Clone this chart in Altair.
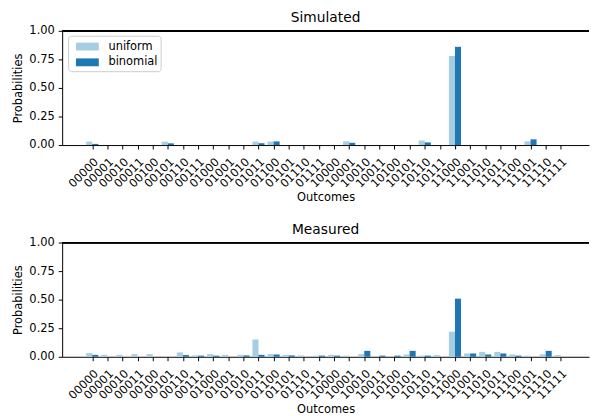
import altair as alt
import pandas as pd

outcomes = ["00000", "00001", "00010", "00011", "00100", "00101", "00110", "00111",
            "01000", "01001", "01010", "01011", "01100", "01101", "01110", "01111",
            "10000", "10001", "10010", "10011", "10100", "10101", "10110", "10111",
            "11000", "11001", "11010", "11011", "11100", "11101", "11110", "11111"]

series_names = ["uniform", "binomial"]
series_colors = ["#a6cee3", "#1f78b4"]

sim_uniform = [0.03, 0, 0, 0, 0, 0.03, 0, 0, 0, 0, 0, 0.03,
               0.03, 0, 0, 0, 0, 0.033, 0, 0, 0, 0, 0.04, 0,
               0.78, 0, 0, 0, 0, 0.032, 0, 0]
sim_binomial = [0.01, 0, 0, 0, 0, 0.015, 0, 0, 0, 0, 0, 0.016,
                0.032, 0, 0, 0, 0, 0.02, 0, 0, 0, 0, 0.023, 0,
                0.86, 0, 0, 0, 0, 0.05, 0, 0]

meas_uniform = [0.032, 0.017, 0.017, 0.023, 0.023, 0, 0.038, 0.012,
                0.023, 0.017, 0.017, 0.152, 0.023, 0.017, 0.012, 0.01,
                0.017, 0.01, 0.023, 0, 0, 0.02, 0.01, 0.015,
                0.22, 0.029, 0.043, 0.043, 0.02, 0.01, 0.02, 0.015]
meas_binomial = [0.017, 0, 0, 0, 0, 0, 0.015, 0.01,
                 0.01, 0, 0.012, 0.017, 0.02, 0.012, 0, 0.01,
                 0.01, 0, 0.052, 0.01, 0.01, 0.052, 0.01, 0,
                 0.509, 0.029, 0.02, 0.029, 0.01, 0, 0.052, 0]

FONT = "DejaVu Sans"
FS = 11.6
W = 535
H = 116
label_expr = "[" + ",".join("'%s'" % o for o in outcomes) + "][datum.value]"


def panel(title, uni, bino):
    rows = []
    for i, o in enumerate(outcomes):
        rows.append({"idx": i, "outcome": o, "series": "uniform", "prob": uni[i], "side": 0})
        rows.append({"idx": i, "outcome": o, "series": "binomial", "prob": bino[i], "side": 1})
    df = pd.DataFrame(rows)
    bars = alt.Chart(df).transform_calculate(
        x0="datum.idx - 0.4 + 0.4 * datum.side",
        x1="datum.idx + 0.4 * datum.side",
    ).mark_rect(opacity=1).encode(
        x=alt.X("x0:Q",
                scale=alt.Scale(domain=[-1.99, 32.87], nice=False, zero=False),
                axis=alt.Axis(values=list(range(32)), labelExpr=label_expr,
                              labelAngle=-45, labelAlign="right", labelBaseline="top",
                              labelPadding=7, titlePadding=2, labelOverlap=False),
                title="Outcomes"),
        x2="x1:Q",
        y=alt.Y("prob:Q", scale=alt.Scale(domain=[0, 1], nice=False),
                axis=alt.Axis(values=[0, 0.25, 0.5, 0.75, 1.0], format=".2f",
                              labelPadding=4, titlePadding=5),
                title="Probabilities"),
        y2=alt.datum(0),
        color=alt.Color("series:N",
                        scale=alt.Scale(domain=series_names, range=series_colors),
                        sort=series_names,
                        legend=alt.Legend(title=None, orient="none", legendX=6, legendY=5,
                                          fillColor="rgba(255,255,255,0.8)",
                                          strokeColor="#cccccc", cornerRadius=3,
                                          padding=3,
                                          symbolType="M-0.375,-0.5h2.9v1h-2.9z",
                                          symbolSize=256, symbolStrokeWidth=0,
                                          symbolOpacity=1,
                                          labelFontSize=FS, labelFont=FONT,
                                          labelColor="#000000",
                                          rowPadding=2, labelOffset=22)),
    )
    top_line = alt.Chart(df).mark_rule(color="#000000", strokeWidth=1).encode(
        y=alt.value(0), x=alt.value(0), x2=alt.value(W)
    )
    return alt.layer(bars, top_line).properties(
        width=W, height=H,
        title=alt.TitleParams(title, fontSize=14, fontWeight="normal", font=FONT,
                              color="#000000", anchor="middle", offset=0),
    )


chart = alt.vconcat(
    panel("Simulated", sim_uniform, sim_binomial),
    panel("Measured", meas_uniform, meas_binomial),
    spacing=20,
).properties(
    padding={"left": 5, "top": 0, "right": 0, "bottom": 0}
).configure_view(stroke=None).configure_axis(
    grid=False, domainColor="#000000", tickColor="#000000", labelColor="#000000",
    titleColor="#000000", labelFont=FONT, titleFont=FONT, labelFontSize=FS,
    titleFontSize=FS, titleFontWeight="normal", tickSize=4, domainWidth=1, tickWidth=1,
)

chart.save("out.html", embed_options={"renderer": "svg", "actions": False})
